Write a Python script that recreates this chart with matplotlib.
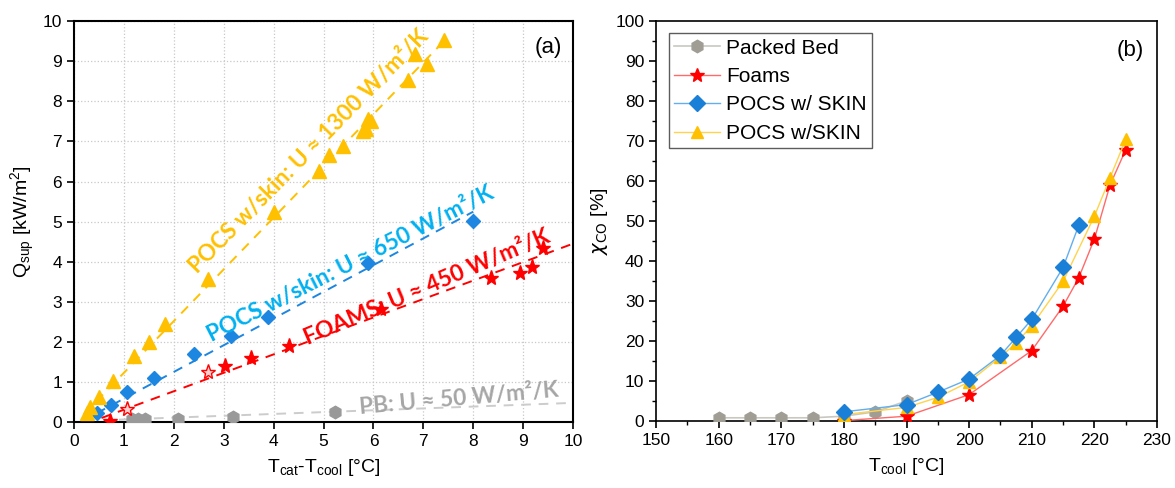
import numpy as np
import matplotlib
matplotlib.use("Agg")
import matplotlib.pyplot as plt

plt.rcParams['font.family'] = ['Liberation Sans', 'DejaVu Sans']
plt.rcParams['mathtext.default'] = 'regular'

# ---------------- Panel (a) data ----------------
pocs1300_x = [0.25, 0.32, 0.5, 0.78, 1.2, 1.5, 1.82, 2.68, 4.0, 4.9, 5.1, 5.4, 5.8, 5.85, 5.9, 5.95, 6.7, 6.83, 7.07, 7.42]
pocs1300_y = [0.22, 0.38, 0.62, 1.02, 1.65, 2.0, 2.45, 3.57, 5.25, 6.27, 6.67, 6.88, 7.25, 7.3, 7.55, 7.5, 8.52, 9.17, 8.93, 9.52]

pocs650_x = [0.47, 0.75, 1.07, 1.6, 2.4, 3.15, 3.88, 5.9, 8.0]
pocs650_y = [0.23, 0.43, 0.76, 1.1, 1.7, 2.15, 2.62, 3.96, 5.02]

foam_x = [0.72, 1.07, 2.69, 3.03, 3.54, 4.31, 6.16, 8.36, 8.94, 9.18, 9.4]
foam_y = [0.02, 0.33, 1.25, 1.40, 1.61, 1.90, 2.82, 3.60, 3.72, 3.87, 4.34]
foam_hollow = [False, True, True, False, False, False, False, False, False, False, False]

pb_x = [1.17, 1.28, 1.43, 2.08, 3.18, 5.23]
pb_y = [0.08, 0.09, 0.09, 0.09, 0.14, 0.24]

# linear fits: slope [kW/m2/K], intercept, x-range
fit_slope = [1.29, 0.666, 0.46, 0.046]
fit_intercept = [-0.06, -0.08, -0.15, 0.02]
fit_xstart = [0.2, 0.45, 0.55, 0.9]
fit_xend = [7.45, 8.0, 10.0, 10.0]

labels_a = ['POCS w/skin: U ≈ 1300 W/m²/K', 'POCS w/skin: U ≈ 650 W/m²/K',
            'FOAMS: U ≈ 450 W/m²/K', 'PB: U ≈ 50 W/m²/K']

# ---------------- Panel (b) data ----------------
pb_T = [160, 165, 170, 175, 180, 185, 190]
pb_X = [0.8, 0.8, 0.8, 0.8, 1.2, 2.3, 5.0]

foam_T = [180, 190, 200, 210, 215, 217.5, 220, 222.5, 225]
foam_X = [0.1, 1.2, 6.6, 17.6, 28.7, 35.8, 45.5, 59.0, 67.8]

pocsA_T = [180, 190, 195, 200, 205, 207.5, 210, 215, 217.5]
pocsA_X = [2.3, 4.1, 7.2, 10.5, 16.4, 20.9, 25.4, 38.4, 48.9]

pocsB_T = [180, 190, 195, 200, 205, 207.5, 210, 215, 220, 222.5, 225]
pocsB_X = [1.6, 3.4, 5.9, 9.8, 16.0, 19.5, 23.8, 34.9, 51.2, 60.8, 70.4]

legend_b = ['Packed Bed', 'Foams', 'POCS w/ SKIN', 'POCS w/SKIN']

# ---------------- Styles ----------------
c_yel = '#FFC000'
c_blue = '#1C86E0'
c_red = '#FF0000'

fig = plt.figure(figsize=(11.75, 4.88), dpi=100)
axa = fig.add_axes([0.063, 0.135, 0.4247, 0.8217])
axb = fig.add_axes([0.5583, 0.1373, 0.4264, 0.8197])

# ---- Panel (a)
axa.set_xlim(0, 10)
axa.set_ylim(0, 10)
axa.set_xticks(np.arange(0, 11, 1))
axa.set_yticks(np.arange(0, 11, 1))
axa.grid(True, linestyle=':', color='#C8C8C8', linewidth=0.9)
axa.set_axisbelow(True)

fit_colors = [c_yel, c_blue, c_red, '#CCCCCC']
for s, b, x0, x1, col in zip(fit_slope, fit_intercept, fit_xstart, fit_xend, fit_colors):
    xx = np.array([x0, x1])
    axa.plot(xx, s * xx + b, linestyle=(0, (5, 4)), color=col, linewidth=1.4, zorder=2)

axa.plot(pb_x, pb_y, linestyle='none', marker='h', markersize=9, color='#999999', zorder=3)
fx = np.array(foam_x); fy = np.array(foam_y); fh = np.array(foam_hollow)
axa.plot(fx[~fh], fy[~fh], linestyle='none', marker='*', markersize=11, color=c_red, zorder=3)
axa.plot(fx[fh], fy[fh], linestyle='none', marker='*', markersize=11,
         markerfacecolor='#FFD0D0', markeredgecolor=c_red, markeredgewidth=1.0, zorder=3)
axa.plot(pocs650_x, pocs650_y, linestyle='none', marker='D', markersize=7, color=c_blue, zorder=3)
axa.plot(pocs1300_x, pocs1300_y, linestyle='none', marker='^', markersize=10, color=c_yel, zorder=3)

txt_pos = [(4.70, 6.75), (5.55, 3.95), (7.08, 3.37), (7.72, 0.58)]
txt_rot = [45.5, 27.0, 23.0, 5.0]
txt_col = [c_yel, '#00B0F0', c_red, '#A6A6A6']
for lab, (tx, ty), rot, col in zip(labels_a, txt_pos, txt_rot, txt_col):
    axa.text(tx, ty, lab, rotation=rot, rotation_mode='anchor', ha='center', va='center',
             color=col, fontsize=16.3, fontweight='bold', family=['Lato', 'DejaVu Sans'], zorder=4)

axa.text(9.5, 9.35, '(a)', fontsize=16, ha='center', va='center')
axa.set_xlabel('T$_{cat}$-T$_{cool}$ [°C]', fontsize=14, labelpad=6)
axa.set_ylabel('Q$_{sup}$ [kW/m$^2$]', fontsize=14, labelpad=4)
axa.tick_params(direction='out', length=5, width=1.2, labelsize=12.5)
for sp in axa.spines.values():
    sp.set_linewidth(1.5)

# ---- Panel (b)
axb.plot(pb_T, pb_X, color='#C9C7C0', linewidth=1.2, marker='h', markersize=9,
         markerfacecolor='#A09E94', markeredgecolor='#A09E94', zorder=3, label=legend_b[0])
axb.plot(foam_T, foam_X, color='#FF6A6A', linewidth=1.0, marker='*', markersize=10,
         markerfacecolor=c_red, markeredgecolor=c_red, zorder=4, label=legend_b[1])
axb.plot(pocsA_T, pocsA_X, color='#63AEEC', linewidth=1.0, marker='D', markersize=8,
         markerfacecolor='#1A7FD6', markeredgecolor='#1A7FD6', zorder=5, label=legend_b[2])
axb.plot(pocsB_T, pocsB_X, color='#FFD34D', linewidth=1.0, marker='^', markersize=9,
         markerfacecolor=c_yel, markeredgecolor=c_yel, zorder=4, label=legend_b[3])

axb.set_xlim(150, 230)
axb.set_ylim(0, 100)
axb.set_xticks(np.arange(150, 231, 10))
axb.set_yticks(np.arange(0, 101, 10))
axb.set_xticks(np.arange(155, 230, 10), minor=True)
axb.set_yticks(np.arange(5, 100, 10), minor=True)
axb.tick_params(which='major', direction='out', length=5, width=1.2, labelsize=12.5)
axb.tick_params(which='minor', direction='out', length=3, width=1.0)
for sp in axb.spines.values():
    sp.set_linewidth(1.2)

leg = axb.legend(loc='upper left', fontsize=15, frameon=True, fancybox=False,
                 edgecolor='#333333', borderpad=0.25, labelspacing=0.45, handlelength=2.2,
                 handletextpad=0.3, borderaxespad=0.6)
leg.get_frame().set_linewidth(1.0)

axb.text(225.7, 92.7, '(b)', fontsize=16, ha='center', va='center')
axb.set_xlabel('T$_{cool}$ [°C]', fontsize=14, labelpad=6)
axb.set_ylabel('$\\mathit{\\chi}_{\\mathrm{CO}}$ [%]', fontsize=14, labelpad=4,
               math_fontfamily='dejavusans')

fig.savefig('out.png', dpi=100)
